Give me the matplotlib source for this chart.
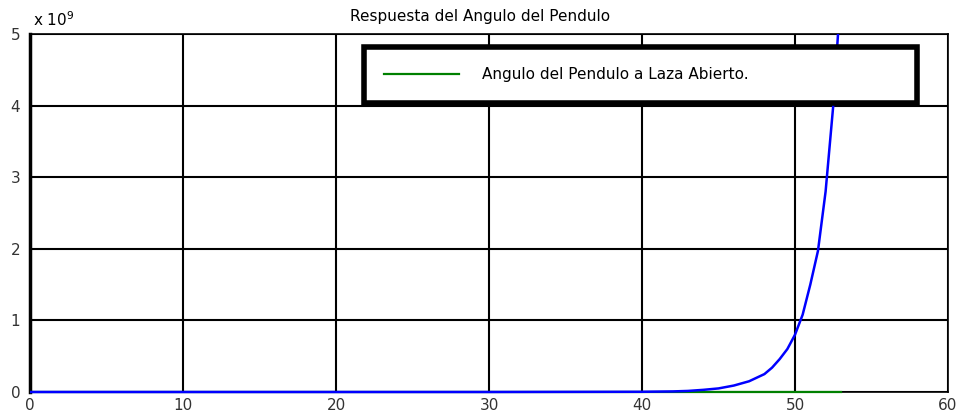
import numpy as np
import matplotlib
matplotlib.use("Agg")
import matplotlib.pyplot as plt
from matplotlib.patches import Rectangle
from matplotlib.ticker import ScalarFormatter

# tiempo (s) y angulo del pendulo
t_blue = [0, 8, 20, 30, 40, 42, 43, 44, 45, 46, 47, 48, 48.5, 49, 49.5,
          50, 50.5, 51, 51.5, 52, 52.5, 53]
y_blue = [0, 0, 0, 0, 0.003, 0.008, 0.015, 0.03, 0.05, 0.09, 0.15, 0.25, 0.34,
          0.46, 0.6, 0.8, 1.08, 1.5, 1.97, 2.8, 4.0, 5.6]
y_blue = [v * 1e9 for v in y_blue]

t_green = [0, 53]
y_green = [0, 0]

xticks = [0, 10, 20, 30, 40, 50, 60]
yticks = [0, 1e9, 2e9, 3e9, 4e9, 5e9]

plt.rcParams['font.family'] = ['DejaVu Sans']

fig = plt.figure(figsize=(9.61, 4.2), dpi=100)
ax = fig.add_axes([30/961, 28/420, 918/961, 358/420])

# recorte que deja ver todo el grosor de las lineas sobre el eje x
clip = Rectangle((0, -0.03), 1, 1.03, transform=ax.transAxes,
                 facecolor='none', edgecolor='none')

g, = ax.plot(t_green, y_green, color='#008000', linewidth=1.6, zorder=3,
             label='Angulo del Pendulo a Laza Abierto.')
b, = ax.plot(t_blue, y_blue, color='#0000ff', linewidth=1.8, zorder=4)
g.set_clip_path(clip)
b.set_clip_path(clip)

ax.set_xlim(0, 60)
ax.set_ylim(0, 5e9)
ax.set_xticks(xticks)
ax.set_yticks(yticks)
ax.yaxis.set_major_formatter(ScalarFormatter())
ax.yaxis.get_offset_text().set_visible(False)
ax.set_yticklabels(['0', '1', '2', '3', '4', '5'])

ax.grid(True, color='black', linewidth=1.5, linestyle='-')
ax.tick_params(length=0, labelsize=11, labelcolor='#333333')
ax.tick_params(axis='y', pad=7)
ax.tick_params(axis='x', pad=4)

for side in ['top', 'right', 'bottom']:
    ax.spines[side].set_linewidth(1.2)
ax.spines['left'].set_linewidth(2.5)

fig.text(33/961, 1 - 20/420, 'x 10$^{9}$', fontsize=11, va='center')
fig.text(0.5, 1 - 17/420, 'Respuesta del Angulo del Pendulo', fontsize=11,
         ha='center', va='center')

leg = ax.legend(loc='center', bbox_to_anchor=(0.355, 0.807, 0.62, 0.157),
                mode='expand', fontsize=11, handlelength=4.9,
                handletextpad=1.5, borderpad=1.35, fancybox=False,
                framealpha=1)
leg.get_frame().set_edgecolor('black')
leg.get_frame().set_linewidth(4)

fig.savefig('out.png', dpi=100)
